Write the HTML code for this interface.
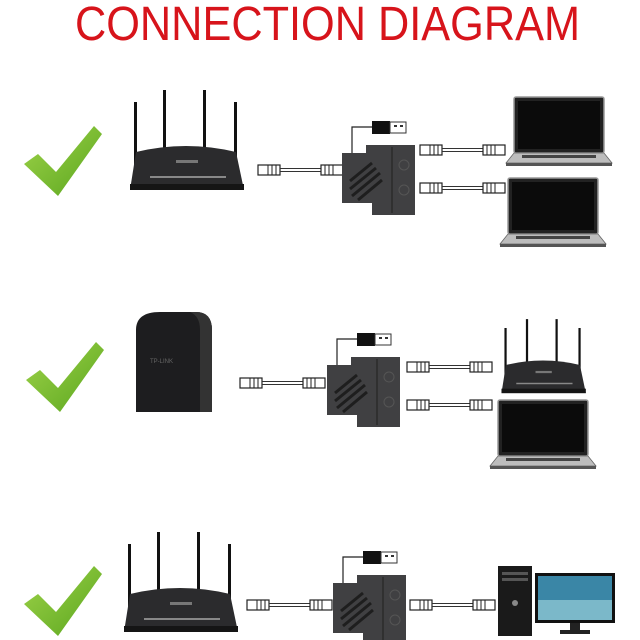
<!DOCTYPE html>
<html><head><meta charset="utf-8"><style>html,body{margin:0;padding:0;background:#fff}svg{display:block}</style></head>
<body>
<svg width="640" height="640" viewBox="0 0 640 640" xmlns="http://www.w3.org/2000/svg">
<defs>
<linearGradient id="gr" x1="0" y1="0" x2="1" y2="1"><stop offset="0" stop-color="#9fd34a"/><stop offset="1" stop-color="#5aa61e"/></linearGradient>
<g id="check"><path d="M0,38 L14,28 L32,46 L70,0 L78,8 L34,70 Z" fill="url(#gr)"/></g>
<g id="cable">
 <rect x="0" y="-5" width="22" height="10" fill="#fff" stroke="#222" stroke-width="1.2"/>
 <line x1="10" y1="-5" x2="10" y2="5" stroke="#222"/><line x1="14" y1="-5" x2="14" y2="5" stroke="#222"/><line x1="18" y1="-5" x2="18" y2="5" stroke="#222"/>
 <line x1="22" y1="-1.5" x2="63" y2="-1.5" stroke="#333"/><line x1="22" y1="1.5" x2="63" y2="1.5" stroke="#333"/>
 <rect x="63" y="-5" width="22" height="10" fill="#fff" stroke="#222" stroke-width="1.2"/>
 <line x1="67" y1="-5" x2="67" y2="5" stroke="#222"/><line x1="71" y1="-5" x2="71" y2="5" stroke="#222"/><line x1="75" y1="-5" x2="75" y2="5" stroke="#222"/>
</g>
<g id="split">
 <path d="M10,10 V-18 H30" fill="none" stroke="#222" stroke-width="1.2"/>
 <rect x="30" y="-24" width="18" height="13" fill="#111"/>
 <rect x="48" y="-23" width="16" height="11" fill="#fff" stroke="#333"/>
 <rect x="52" y="-20" width="3" height="2" fill="#333"/><rect x="58" y="-20" width="3" height="2" fill="#333"/>
 <path d="M0,8 H24 V0 H73 V70 H30 V58 H0 Z" fill="#404042"/>
 <line x1="50" y1="2" x2="50" y2="68" stroke="#2a2a2a" stroke-width="1.5"/>
 <g stroke="#1e1e1e" stroke-width="3"><line x1="8" y1="36" x2="30" y2="18"/><line x1="8" y1="44" x2="34" y2="23"/><line x1="10" y1="51" x2="38" y2="28"/><line x1="16" y1="55" x2="40" y2="35"/></g>
 <circle cx="62" cy="20" r="5" fill="none" stroke="#555"/><circle cx="62" cy="45" r="5" fill="none" stroke="#555"/>
</g>
<g id="router">
 <g fill="#111"><rect x="6" y="0" width="3" height="65"/><rect x="35" y="-12" width="3" height="62"/><rect x="75" y="-12" width="3" height="62"/><rect x="106" y="0" width="3" height="65"/></g>
 <path d="M8,50 Q58,38 108,50 L116,88 H2 Z" fill="#2b2b2d"/>
 <rect x="2" y="82" width="114" height="6" fill="#151515"/>
 <g fill="#888"><rect x="22" y="74" width="76" height="2"/></g>
 <rect x="48" y="58" width="22" height="3" fill="#777"/>
</g>
<g id="laptop">
 <rect x="8" y="0" width="90" height="56" rx="2" fill="#222" stroke="#999" stroke-width="1.5"/>
 <rect x="12" y="4" width="82" height="48" fill="#0b0b0b"/>
 <path d="M8,56 H98 L106,66 H0 Z" fill="#bdbdbd" stroke="#666" stroke-width="0.8"/>
 <rect x="16" y="58" width="74" height="3" fill="#444"/>
 <rect x="0" y="66" width="106" height="3" fill="#555"/>
</g>
</defs>

<text x="75" y="40" font-family="Liberation Sans, sans-serif" font-size="48" fill="#d7141b" textLength="505" lengthAdjust="spacingAndGlyphs">CONNECTION DIAGRAM</text>

<!-- Row 1 -->
<use href="#check" x="24" y="126"/>
<use href="#router" x="128" y="102"/>
<use href="#cable" x="258" y="170"/>
<use href="#split" x="342" y="145"/>
<use href="#cable" x="420" y="150"/>
<use href="#cable" x="420" y="188"/>
<use href="#laptop" x="506" y="97"/>
<use href="#laptop" x="500" y="178"/>

<!-- Row 2 -->
<use href="#check" x="26" y="342"/>
<g>
 <path d="M136,330 Q136,312 160,312 L196,312 Q212,312 212,330 L212,412 H136 Z" fill="#1d1d1f"/>
 <path d="M196,312 Q212,312 212,330 L212,412 H200 V330 Q200,316 190,312 Z" fill="#333"/>
 <text x="150" y="363" font-family="Liberation Sans, sans-serif" font-size="6" fill="#666">TP-LINK</text>
</g>
<use href="#cable" x="240" y="383"/>
<use href="#split" x="327" y="357"/>
<use href="#cable" x="407" y="367"/>
<use href="#cable" x="407" y="405"/>
<g transform="translate(500,328) scale(0.74)"><use href="#router"/></g>
<use href="#laptop" x="490" y="400"/>

<!-- Row 3 -->
<use href="#check" x="24" y="566"/>
<use href="#router" x="122" y="544"/>
<use href="#cable" x="247" y="605"/>
<use href="#split" x="333" y="575"/>
<use href="#cable" x="410" y="605"/>
<g>
 <rect x="498" y="566" width="34" height="70" fill="#1a1a1a"/>
 <rect x="502" y="572" width="26" height="3" fill="#555"/><rect x="502" y="578" width="26" height="3" fill="#555"/>
 <circle cx="515" cy="603" r="3" fill="#888"/>
 <rect x="535" y="573" width="80" height="50" fill="#111"/>
 <rect x="538" y="576" width="74" height="44" fill="#3a86a6"/>
 <rect x="538" y="600" width="74" height="20" fill="#7bb8c9"/>
 <rect x="570" y="623" width="10" height="9" fill="#222"/>
 <rect x="560" y="630" width="30" height="4" fill="#222"/>
</g>
</svg>
</body></html>
